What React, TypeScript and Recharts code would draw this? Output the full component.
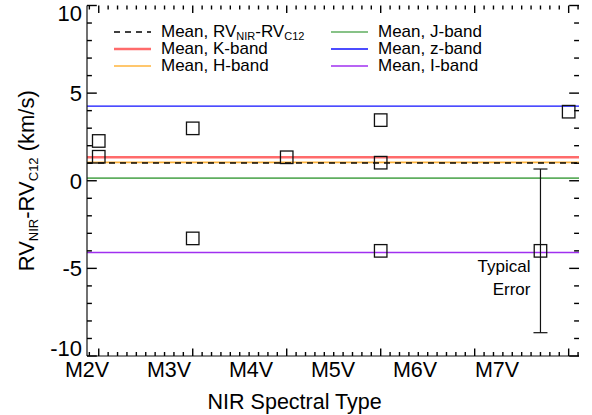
import React from 'react';
import {
  ComposedChart,
  Scatter,
  XAxis,
  YAxis,
  ReferenceLine,
  ErrorBar,
  Customized,
} from 'recharts';

// Spectral subtypes of the measured stars (M2 = 2 ... M7 = 7)
const starTypes = [2, 2, 3, 3, 4, 5, 5, 5, 7];
// RV_NIR - RV_C12 offsets (km/s)
const starOffsets = [2.27, 1.37, 2.99, -3.29, 1.34, 3.46, 1.03, -4.0, 3.94];

// Typical error marker
const errorTypes = [6.7];
const errorOffsets = [-4.0];
const errorSizes = [4.67];

// Mean offsets per band (km/s)
const meanNames = ['all', 'K', 'H', 'J', 'z', 'I'];
const meanValues = [1.02, 1.34, 1.05, 0.15, 4.26, -4.09];

// Axis tick labels
const typeLabels = ['M2V', 'M3V', 'M4V', 'M5V', 'M6V', 'M7V'];
const yLabelValues = [-10, -5, 0, 5, 10];

const FONT = '"Liberation Sans", Arial, Helvetica, sans-serif';

const X_MIN = 1.875;
const X_MAX = 7.11;
const Y_MIN = -10;
const Y_MAX = 10;

const lineStyles: Record<string, { stroke: string; width: number; dash?: string }> = {
  all: { stroke: '#000000', width: 1.4, dash: '6 5' },
  K: { stroke: '#ff6b6b', width: 2.4 },
  H: { stroke: '#ffb43c', width: 1.6 },
  J: { stroke: '#5fae5f', width: 1.6 },
  z: { stroke: '#1010ff', width: 1.4 },
  I: { stroke: '#a030f0', width: 1.6 },
};

const starData = starTypes.map((t, i) => ({ x: t, y: starOffsets[i] }));
const errorData = errorTypes.map((t, i) => ({ x: t, y: errorOffsets[i], err: errorSizes[i] }));

// tick labels are spread over the axis in sixths
const xLabelPositions = typeLabels.map((_, k) => X_MIN + (k * (X_MAX - X_MIN)) / 6);

// inward tick marks on the frame: minor every 0.1 subtype / 1 km/s, majors longer
type TickMark = { x: number; y: number; side: 'b' | 't' | 'l' | 'r'; major: boolean };
const frameTicks: TickMark[] = [];
for (let i = 19; i <= 71; i++) {
  const v = i / 10;
  const major = i % 10 === 0;
  frameTicks.push({ x: v, y: Y_MIN, side: 'b', major });
  frameTicks.push({ x: v, y: Y_MAX, side: 't', major });
}
for (let v = Y_MIN; v <= Y_MAX; v++) {
  const major = v % 5 === 0;
  frameTicks.push({ x: X_MIN, y: v, side: 'l', major });
  frameTicks.push({ x: X_MAX, y: v, side: 'r', major });
}

const TickShape = (props: any) => {
  const { cx, cy, payload } = props;
  const { side, major } = payload as TickMark;
  let x2 = cx;
  let y2 = cy;
  if (side === 'b') y2 = cy - (major ? 7.5 : 4);
  if (side === 't') y2 = cy + (major ? 7.5 : 4);
  if (side === 'l') x2 = cx + (major ? 9.8 : 4.9);
  if (side === 'r') x2 = cx - (major ? 9.8 : 4.9);
  return <line x1={cx} y1={cy} x2={x2} y2={y2} stroke="#000" strokeWidth={1.4} />;
};

const AXIS = { stroke: '#111', strokeWidth: 1.2 };

const XLabelTick = (props: any) => {
  const { x, y, payload } = props;
  const li = xLabelPositions.indexOf(payload.value);
  return (
    <text x={x} y={y + 21} textAnchor="middle" fontSize={21.5} fontFamily={FONT} fill="#000">
      {li >= 0 ? typeLabels[li] : ''}
    </text>
  );
};

const YLabelTick = (props: any) => {
  const { x, y, payload } = props;
  const v = payload.value;
  let dy = 8;
  if (v === Y_MAX) dy = 15;
  if (v === Y_MIN) dy = 0;
  return (
    <text x={x - 5} y={y + dy} textAnchor="end" fontSize={22} fontFamily={FONT} fill="#000">
      {v}
    </text>
  );
};

const Square = (props: any) => {
  const { cx, cy } = props;
  const s = 12.5;
  return <rect x={cx - s / 2} y={cy - s / 2} width={s} height={s} fill="none" stroke="#111" strokeWidth={1.3} />;
};

const ErrorSquare = (props: any) => {
  const { cx, cy } = props;
  return (
    <g>
      <Square cx={cx} cy={cy} />
      <text x={cx - 10} y={cy + 21} textAnchor="end" fontSize={17} fontFamily={FONT} fill="#000">
        Typical
      </text>
      <text x={cx - 10} y={cy + 44} textAnchor="end" fontSize={17} fontFamily={FONT} fill="#000">
        Error
      </text>
    </g>
  );
};

const legendRows = [
  { key: 'all', col: 0, row: 0 },
  { key: 'K', col: 0, row: 1 },
  { key: 'H', col: 0, row: 2 },
  { key: 'J', col: 1, row: 0 },
  { key: 'z', col: 1, row: 1 },
  { key: 'I', col: 1, row: 2 },
];

const LegendBlock = () => {
  const colX = [114, 331];
  const baseY = 37;
  const rowH = 17;
  return (
    <g fontFamily={FONT} fontSize={17}>
      {legendRows.map(({ key, col, row }) => {
        const st = lineStyles[key];
        const x0 = colX[col];
        const by = baseY + row * rowH;
        return (
          <g key={key}>
            <line
              x1={x0}
              x2={x0 + 37}
              y1={by - 5}
              y2={by - 5}
              stroke={st.stroke}
              strokeWidth={st.width}
              strokeDasharray={st.dash}
            />
            <text x={x0 + 47} y={by} fill="#000">
              {key === 'all' ? (
                <>
                  Mean, RV
                  <tspan fontSize={11} dy={3}>NIR</tspan>
                  <tspan dy={-3}>-RV</tspan>
                  <tspan fontSize={11} dy={3}>C12</tspan>
                </>
              ) : (
                `Mean, ${key}-band`
              )}
            </text>
          </g>
        );
      })}
    </g>
  );
};

const YTitle = (props: any) => {
  const vb = props.viewBox;
  const cy = vb.y + vb.height / 2;
  return (
    <text
      transform={`translate(34, ${cy}) rotate(-90)`}
      textAnchor="middle"
      fontSize={22}
      fontFamily={FONT}
      fill="#000"
    >
      RV
      <tspan fontSize={13} dy={4}>NIR</tspan>
      <tspan dy={-4}>-RV</tspan>
      <tspan fontSize={13} dy={4}>C12</tspan>
      <tspan dy={-4}> (km/s)</tspan>
    </text>
  );
};

const XTitle = (props: any) => {
  const vb = props.viewBox;
  return (
    <text x={vb.x + vb.width * 0.422} y={409} textAnchor="middle" fontSize={21.5} fontFamily={FONT} fill="#000">
      NIR Spectral Type
    </text>
  );
};

export default function App() {
  return (
    <div style={{ position: 'absolute', left: 0, top: 0, background: '#fff' }}>
      <ComposedChart width={592} height={415} margin={{ top: 5.5, right: 13, bottom: 0, left: 0 }}>
        <XAxis
          xAxisId="b"
          type="number"
          dataKey="x"
          domain={[X_MIN, X_MAX]}
          ticks={xLabelPositions}
          interval={0}
          tickSize={0}
          tickMargin={0}
          tickLine={false}
          tick={<XLabelTick />}
          height={59}
          axisLine={AXIS}
          label={<XTitle />}
        />
        <XAxis
          xAxisId="t"
          orientation="top"
          type="number"
          domain={[X_MIN, X_MAX]}
          tick={false}
          tickLine={false}
          height={0}
          axisLine={AXIS}
        />
        <YAxis
          yAxisId="l"
          type="number"
          domain={[Y_MIN, Y_MAX]}
          ticks={yLabelValues}
          interval={0}
          tickSize={0}
          tickMargin={0}
          tickLine={false}
          tick={<YLabelTick />}
          width={87}
          axisLine={AXIS}
          label={<YTitle />}
        />
        <YAxis
          yAxisId="r"
          orientation="right"
          type="number"
          domain={[Y_MIN, Y_MAX]}
          tick={false}
          tickLine={false}
          width={0}
          axisLine={AXIS}
        />

        {meanNames.map((name, i) => {
          const st = lineStyles[name];
          return (
            <ReferenceLine
              key={name}
              xAxisId="b"
              yAxisId="l"
              y={meanValues[i]}
              stroke={st.stroke}
              strokeWidth={st.width}
              strokeDasharray={st.dash}
            />
          );
        })}
        {/* dashed overall mean drawn again on top of the coloured band lines */}
        <ReferenceLine
          xAxisId="b"
          yAxisId="l"
          y={meanValues[0]}
          stroke={lineStyles.all.stroke}
          strokeWidth={lineStyles.all.width}
          strokeDasharray={lineStyles.all.dash}
        />
        {/* frame tick marks */}
        <Scatter
          xAxisId="b"
          yAxisId="l"
          data={frameTicks}
          dataKey="y"
          shape={<TickShape />}
          legendType="none"
          isAnimationActive={false}
        />
        <Scatter xAxisId="b" yAxisId="l" data={starData} dataKey="y" shape={<Square />} isAnimationActive={false} />
        <Scatter xAxisId="b" yAxisId="l" data={errorData} dataKey="y" shape={<ErrorSquare />} isAnimationActive={false}>
          <ErrorBar dataKey="err" direction="y" width={7} stroke="#111" strokeWidth={1.2} isAnimationActive={false} />
        </Scatter>
        <Customized component={<LegendBlock />} />
      </ComposedChart>
    </div>
  );
}
